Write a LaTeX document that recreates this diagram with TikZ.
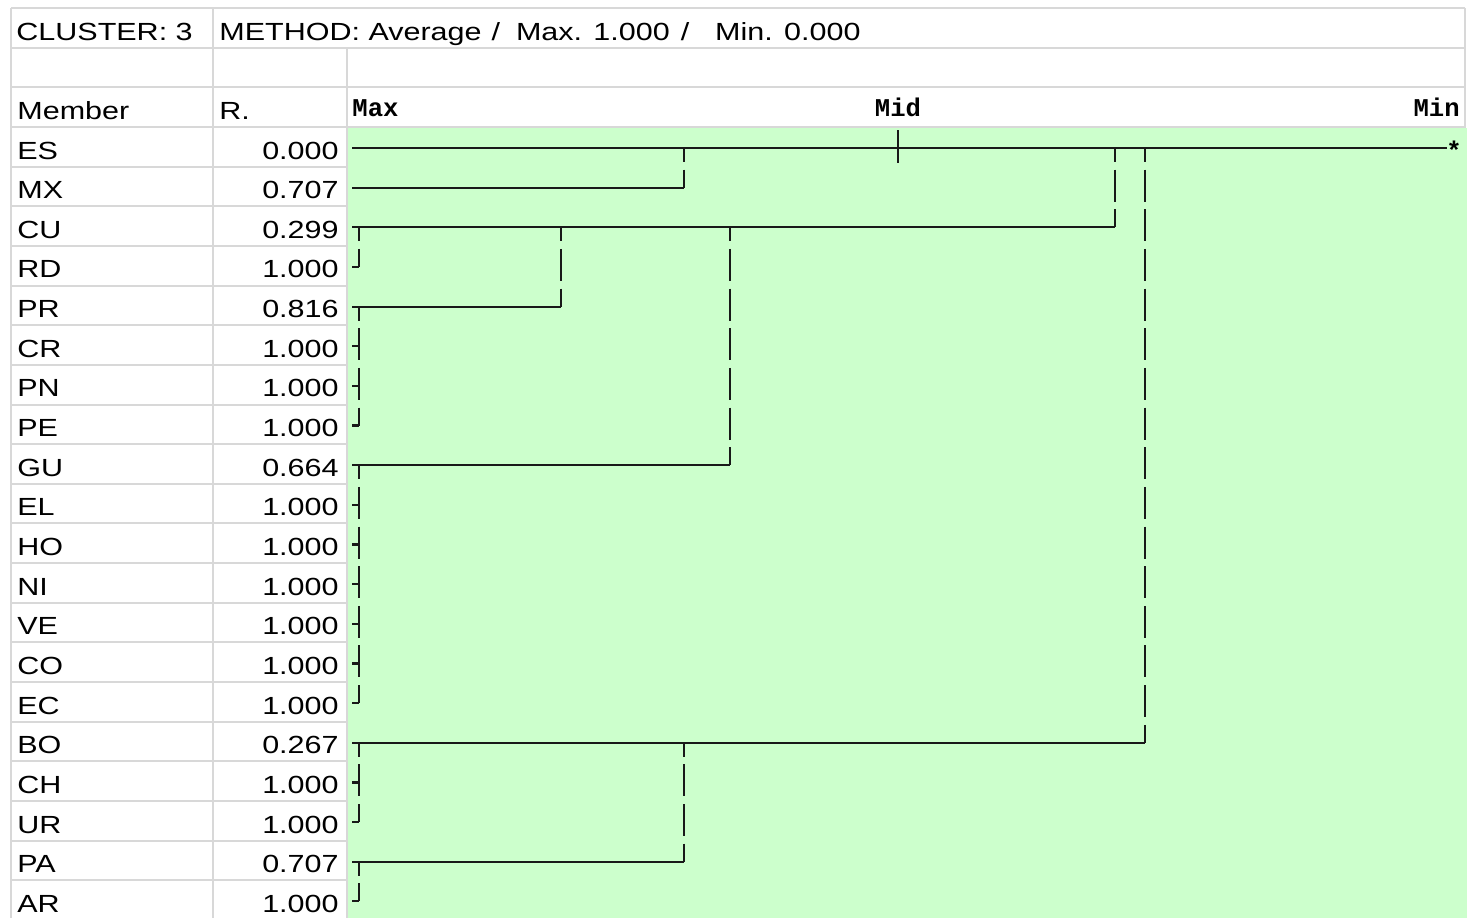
\documentclass[tikz,border=0pt]{standalone}
\usepackage{fontspec}
\usetikzlibrary{calc}
\setmainfont{Liberation Sans}[FakeStretch=1.23]
\newfontfamily\axisfont{Liberation Mono}
\definecolor{gridgray}{RGB}{216,216,216}
\definecolor{plotgreen}{RGB}{204,255,204}
\tikzset{
  cell/.style={anchor=base west, inner sep=0pt, font=\fontsize{12.4}{14}\selectfont},
  num/.style={cell, anchor=base east},
  axis/.style={inner sep=0pt, font=\axisfont\bfseries\fontsize{12.8}{14}\selectfont},
  rule/.style={draw=gridgray, line width=1pt},
  twig/.style={draw=black!90, line width=1.1pt},
  trunk/.style={twig, dash pattern=on 16pt off 3.825pt, dash phase=9pt},
}
\begin{document}
\begin{tikzpicture}[x=0.5pt, y=-0.5pt]
\useasboundingbox (0,0) rectangle (1467,918);
\fill[plotgreen] (347,127.65) rectangle (1467,918);
% table rules
\foreach \k in {0,...,3}
  \draw[rule] (11,{8+39.65*\k}) -- (1465,{8+39.65*\k});
\foreach \k in {4,...,22}
  \draw[rule] (11,{8+39.65*\k}) -- (347,{8+39.65*\k});
\draw[rule] (11,8) -- (11,918);
\draw[rule] (213,8) -- (213,918);
\draw[rule] (347,47.65) -- (347,918);
\draw[rule] (1465,8) -- (1465,127.65);
% header cells
\node[cell] (cluster) at (16,40.5) {CLUSTER: 3};
\node[cell] (method) at (219,40.5) {METHOD: Average\hspace{5pt}/\hspace{8pt}Max. 1.000\hspace{5.5pt}/\hspace{13pt}Min. 0.000};
\node[cell] (member) at (17,119.5) {Member};
\node[cell] (rcol) at (219,119.5) {R.};
\node[axis, anchor=base west] (max) at (352,116) {Max};
\node[axis, anchor=base] (mid) at (898,116) {Mid};
\node[axis, anchor=base east] (min) at (1460,116) {Min};
% members
\foreach \m/\r [count=\i from 0] in {ES/0.000, MX/0.707, CU/0.299, RD/1.000, PR/0.816,
    CR/1.000, PN/1.000, PE/1.000, GU/0.664, EL/1.000, HO/1.000, NI/1.000, VE/1.000,
    CO/1.000, EC/1.000, BO/0.267, CH/1.000, UR/1.000, PA/0.707, AR/1.000} {
  \node[cell] (\m) at (17,{159+39.65*\i}) {\m};
  \node[num] (\m-r) at (339,{159+39.65*\i}) {\r};
  \coordinate (\m-l) at (352,{148+39.65*\i});
}
% branches
\foreach \m/\x in {ES/1447, MX/684, CU/1115, RD/359, PR/561, CR/359, PN/359, PE/359,
    GU/730, EL/359, HO/359, NI/359, VE/359, CO/359, EC/359, BO/1145, CH/359, UR/359,
    PA/684, AR/359}
  \draw[twig] (\m-l) -- ($(\m-l)+(\x-352,0)$);
\foreach \x/\a/\b in {684/ES/MX, 1115/ES/CU, 1145/ES/BO, 561/CU/PR, 730/CU/GU,
    359/CU/RD, 359/PR/PE, 359/GU/EC, 359/BO/UR, 684/BO/PA, 359/PA/AR}
  \draw[trunk] ($(\a-l)+(\x-352,0)$) -- ($(\b-l)+(\x-352,0)$);
\draw[twig] ($(ES-l)+(546,-18)$) -- ($(ES-l)+(546,15)$);
\node[axis, anchor=base west] (tip) at ($(ES-l)+(1094,11.5)$) {*};
\end{tikzpicture}
\end{document}
